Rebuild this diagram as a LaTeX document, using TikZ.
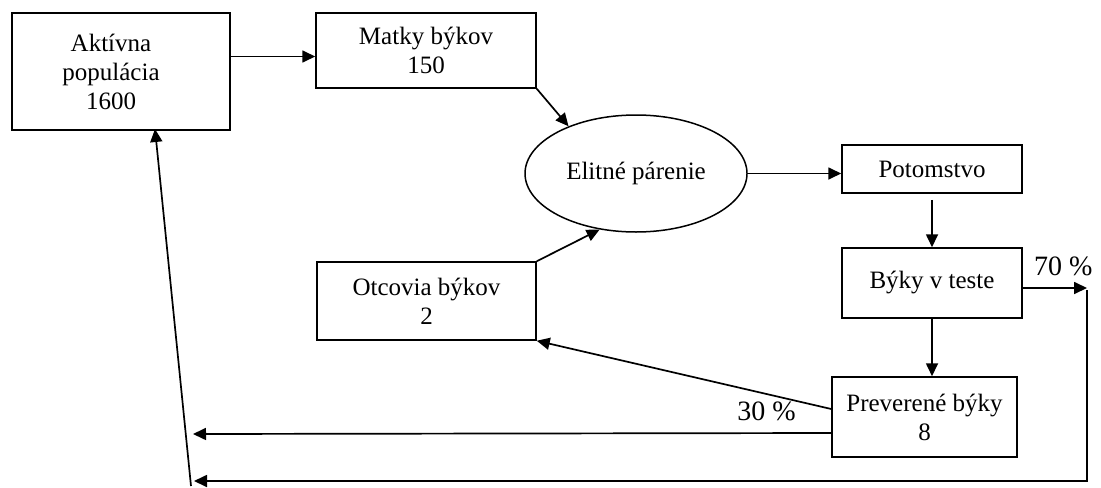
\documentclass[tikz,border=0pt]{standalone}
\usepackage{fontspec}
\setmainfont{Liberation Serif}
\usetikzlibrary{arrows.meta,shapes.geometric}
\begin{document}
\begin{tikzpicture}[
    x=0.5pt, y=-0.5pt,
    every node/.style={font=\fontsize{12.5}{14.5}\selectfont},
    box/.style={rectangle, draw, line width=0.75pt, align=center, inner sep=0pt},
    mating/.style={ellipse, draw, line width=0.75pt, inner sep=0pt, align=center},
    share/.style={font=\fontsize{14}{16}\selectfont},
    arrow/.style={->, line width=0.85pt, >={Triangle[length=6.5pt, width=6pt]}}
]
\useasboundingbox (0,0) rectangle (1101,487);

\node[box, minimum width=109pt, minimum height=58.5pt] (active) at (121,71.5) {};
\node[align=center, inner sep=0pt] (activetext) at (111,71.5) {Aktívna\\populácia\\1600};

\node[box, minimum width=110pt, minimum height=37.5pt] (matky) at (426,50.5) {
    Matky býkov\\
    150
};

\node[mating, minimum width=111pt, minimum height=58.5pt] (elite) at (636,173.5) {Elitné párenie};

\node[box, minimum width=109.5pt, minimum height=39pt] (sires) at (426.5,301) {
    Otcovia býkov\\
    2
};

\node[box, minimum width=90pt, minimum height=24pt] (offspring) at (932,169) {Potomstvo};

\node[box, minimum width=90pt, minimum height=35pt] (test) at (932,283) {Býky v teste};

\node[box, minimum width=92.5pt, minimum height=40pt] (proven) at (924.5,417) {
    Preverené býky\\
    8
};

% free ends of the return lines
\coordinate (out70) at (1087,288);
\coordinate (back1) at (193,434);
\coordinate (back2) at (194,481);
\coordinate (tail) at (191,486);
\coordinate (loopin) at (155,129);

% main flow
\draw[arrow] ([yshift=-3pt]matky.west -| active.east) -- ([yshift=-3pt]matky.west);
\draw[arrow] (matky.south east) -- (elite.145);
\draw[arrow] (sires.north east) -- (elite.237);
\draw[arrow] (elite.east) -- (elite.east -| offspring.west);
\draw[arrow] ([yshift=-3pt]offspring.south) -- (offspring.south |- test.north);
\draw[arrow] (test.south) -- (test.south |- proven.north);

% returns
\draw[arrow] ([yshift=-2.5pt]test.east) -- node[share, pos=0.63, above=2.5pt] {70 \%} (out70);
\draw[arrow] ([yshift=4pt]proven.west) -- node[share, pos=0.22, below=0pt] {30 \%} (sires.south east);
\draw[arrow] ([yshift=-8pt]proven.west) -- (back1);
\draw[arrow] ([yshift=-1pt]out70) |- (back2);
\draw[arrow] (tail) -- (loopin);

\end{tikzpicture}
\end{document}
